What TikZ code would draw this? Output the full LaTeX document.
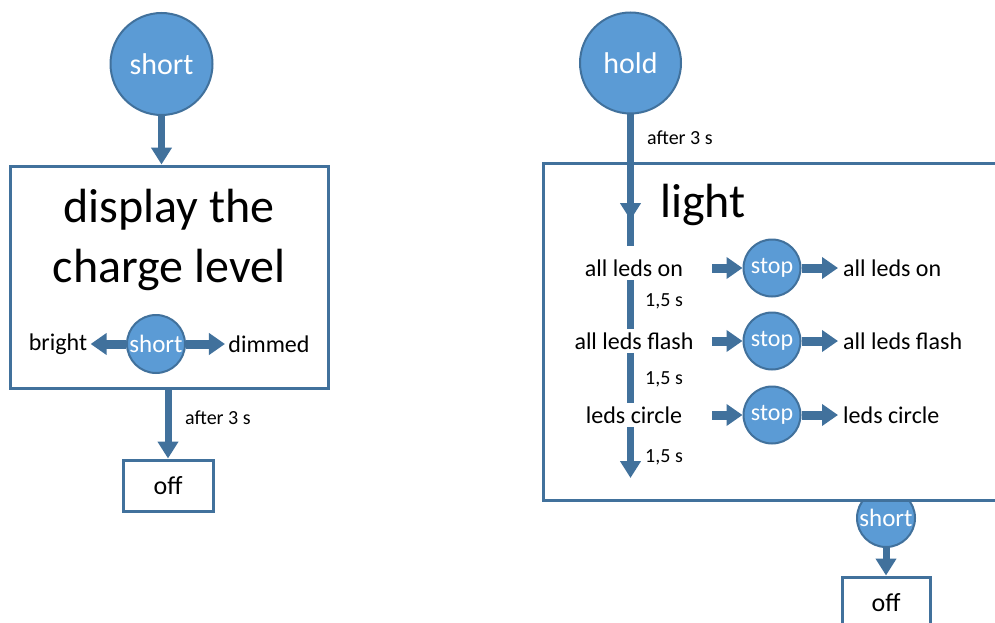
\documentclass[tikz,border=0pt]{standalone}
\usepackage{fontspec}
\setmainfont{Carlito}
\usetikzlibrary{arrows.meta}
\definecolor{edge}{RGB}{65,113,156}
\definecolor{bubble}{RGB}{91,155,213}
\newcommand{\fs}[1]{\fontsize{#1}{1.2\dimexpr#1pt\relax}\selectfont}
\tikzset{
  btn/.style={circle,draw=edge,fill=bubble,line width=2pt,text=white,inner sep=0pt,minimum size=#1},
  frame/.style={draw=edge,line width=3pt,fill=white,inner sep=0pt},
  arr/.style={draw=edge,line width=7pt,-{Triangle[width=20pt,length=17pt]}},
  harr/.style={draw=edge,line width=9pt,-{Triangle[width=21pt,length=16pt]}},
  bar/.style={draw=edge,line width=7pt},
  small/.style={font=\fs{20},anchor=west,inner sep=2pt},
  txt/.style={font=\fs{24}}
}
\begin{document}
\begin{tikzpicture}[x=1pt,y=-1pt]
  \useasboundingbox[fill=white] (0,0) rectangle (995,623);
  % left part
  \node[btn=102pt,font=\fs{30}] (short) at (161.5,64) {short};
  \node[frame,minimum width=318pt,minimum height=222pt] (disp) at (169,277) {};
  \node[font=\fontsize{48}{60}\selectfont,align=center] (title) at (169,240) {display the\\charge level};
  \node[btn=58pt,font=\fs{25}] (sc) at (156,344) {short};
  \node[txt] (bright) at (58,344) {bright};
  \node[txt] (dimmed) at (269,344) {dimmed};
  \node[frame,minimum width=90pt,minimum height=51pt,font=\fs{26}] (off) at (168,485.5) {off};
  \node[small] (wait) at (183,418) {after 3 s};
  \draw[arr] (short) -- (disp.north -| short);
  \draw[harr] (sc) -- (bright);
  \draw[harr] (sc) -- (dimmed);
  \draw[arr] (disp.south -| off) -- (off);
  % right part
  \node[btn=58pt,font=\fs{25}] (sb) at (886,518) {short};
  \node[frame,minimum width=467pt,minimum height=337pt] (lightbox) at (776.5,331.5) {};
  \node[btn=101pt,font=\fs{30}] (hold) at (630.5,63) {hold};
  \node[font=\fs{48}] (light) at (703,205) {light};
  \node[small] (hwait) at (645,138) {after 3 s};
  \coordinate (entry) at (630.5,220);
  \coordinate (split) at (630.5,246);
  \coordinate (exit) at (630.5,478);
  \draw[bar] (hold) -- (split);
  \draw[arr] (hold) -- (entry);
  \foreach \i/\y/\t in {1/268/all leds on,2/341/all leds flash,3/415/leds circle}{
    \node[txt] (l\i) at (634,\y) {\t};
    \node[btn=57pt,font=\fs{24}] (stop\i) at (772,\y) {stop};
    \node[txt,anchor=west,inner sep=5pt] (r\i) at (838,\y) {\t};
    \coordinate (in\i) at (712,\y);
    \draw[harr] (in\i) -- (stop\i);
    \draw[harr] (stop\i) -- (r\i);
  }
  \draw[bar] (l1.south -| split) -- (l2.north -| split);
  \draw[bar] (l2.south -| split) -- (l3.north -| split);
  \draw[arr] (l3.south -| split) -- (exit);
  \node[small] (t1) at (643,301) {1,5 s};
  \node[small] (t2) at (643,379) {1,5 s};
  \node[small] (t3) at (643,457) {1,5 s};
  \node[frame,minimum width=88pt,minimum height=52pt,font=\fs{26}] (off2) at (886,603) {off};
  \draw[arr] (sb) -- (off2);
\end{tikzpicture}
\end{document}
